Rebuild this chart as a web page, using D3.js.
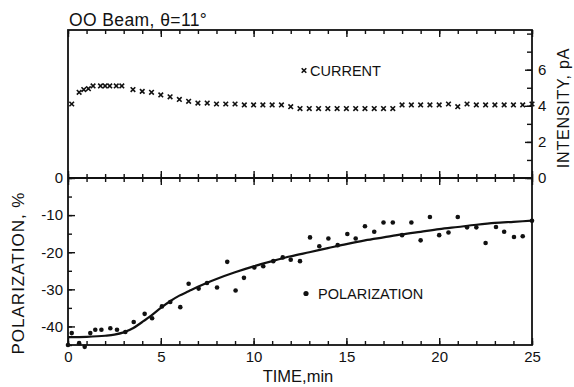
<!DOCTYPE html>
<html>
<head>
<meta charset="utf-8">
<script src="https://cdn.jsdelivr.net/npm/d3@7"></script>
<style>
  body { margin: 0; background: #fff; }
  svg text { font-family: "Liberation Sans", Arial, sans-serif; fill: #111; }
  .axis path.domain { display: none; }
  .axis line { stroke: #111; stroke-width: 1.4; }
</style>
</head>
<body>
<div id="chart"></div>
<script>
// beam current (top panel), pA
const currentTime = [0.2, 0.6, 0.85, 1.1, 1.35, 1.75, 2.0, 2.25, 2.6, 2.9,
  3.5, 4.0, 4.5, 5.0, 5.5, 6.0, 6.5, 7.0, 7.5, 8.0, 8.5, 9.0, 9.5, 10.0, 10.5,
  11.0, 11.5, 12.0, 12.5, 13.0, 13.5, 14.0, 14.5, 15.0, 15.5, 16.0, 16.5, 17.0,
  17.5, 18.0, 18.5, 19.0, 19.5, 20.0, 20.5, 21.0, 21.5, 22.0, 22.5, 23.0, 23.5,
  24.0, 24.5, 25.0];
const currentValue = [4.1, 4.75, 4.9, 4.95, 5.1, 5.1, 5.1, 5.1, 5.1, 5.1,
  4.9, 4.8, 4.75, 4.6, 4.5, 4.35, 4.25, 4.15, 4.15, 4.1, 4.1, 4.1, 4.05, 4.05, 4.05,
  4.05, 4.05, 3.95, 3.85, 3.85, 3.85, 3.85, 3.85, 3.85, 3.85, 3.85, 3.85, 3.85,
  3.85, 4.05, 4.05, 4.05, 4.05, 4.05, 4.1, 3.95, 4.1, 4.05, 4.05, 4.05, 4.05,
  4.05, 4.05, 4.1];

// polarization measurements (bottom panel), %
const polTime = [0, 0.2, 0.6, 0.9, 1.2, 1.47, 1.8, 2.28, 2.64, 3.09, 3.54, 4.13,
  4.53, 5.06, 5.51, 6.05, 6.5, 7.04, 7.49, 8.03, 8.58, 9.03, 9.48, 10.04, 10.52,
  11.06, 11.57, 12.0, 12.5, 13.04, 13.54, 14.03, 14.53, 15.05, 15.5, 16.0, 16.5,
  17.0, 17.5, 18.0, 18.5, 19.0, 19.5, 20.0, 20.5, 21.0, 21.5, 22.0, 22.5, 23.06,
  23.5, 24.03, 24.5, 25.0];
const polValue = [-45, -41.8, -44.5, -45.5, -41.8, -40.9, -40.9, -40.5, -40.9, -41.5,
  -38.8, -36.6, -37.8, -34.6, -33.4, -34.8, -28.5, -29.8, -28.3, -29.5, -22.6, -30.3,
  -26.9, -24.1, -23.8, -22.4, -21.4, -22.0, -22.4, -16.0, -18.4, -16.3, -18.1, -15.1,
  -16.3, -13.0, -14.5, -12.0, -12.0, -15.4, -12.0, -16.8, -10.5, -15.4, -14.7, -10.5,
  -13.3, -13.3, -17.5, -13.2, -14.5, -15.9, -15.7, -11.5];

// smooth fitted curve
const fitTime = [0, 1, 2, 2.5, 3, 3.5, 4, 4.5, 5, 5.5, 6, 6.5, 7, 7.5, 8, 9, 10,
  11, 12, 13, 14, 15, 16, 17, 18, 19, 20, 21, 22, 23, 24, 25];
const fitValue = [-42.9, -42.8, -42.5, -42.2, -41.6, -40.5, -38.8, -37.0, -35.0,
  -33.2, -31.7, -30.5, -29.3, -28.2, -27.2, -25.4, -23.8, -22.4, -21.1, -20.0,
  -18.9, -17.8, -16.8, -16.0, -15.2, -14.5, -13.8, -13.2, -12.6, -12.1, -11.8, -11.5];

const timeTicks = [0, 5, 10, 15, 20, 25];
const polTicks = [0, -10, -20, -30, -40];
const currentTicks = [0, 2, 4, 6];

const width = 574, height = 387;
const x = d3.scaleLinear().domain([0, 25]).range([68, 532]);
const yTop = d3.scaleLinear().domain([0, 8.2]).range([178, 30]);
const yBot = d3.scaleLinear().domain([-45, 0]).range([345, 178]);

const svg = d3.select("#chart").append("svg")
  .attr("width", width)
  .attr("height", height);

const minorTime = d3.range(0, 26, 1);

// top edge ticks (pointing down into top panel)
svg.append("g").attr("class", "axis").attr("transform", `translate(0,${yTop.range()[1]})`)
  .call(d3.axisBottom(x).tickValues(minorTime).tickSize(4).tickFormat(""));
svg.append("g").attr("class", "axis").attr("transform", `translate(0,${yTop.range()[1]})`)
  .call(d3.axisBottom(x).tickValues(timeTicks).tickSize(7).tickFormat(""));

// middle line ticks cross both ways
svg.append("g").attr("class", "axis").attr("transform", `translate(0,${yBot(0)})`)
  .call(d3.axisBottom(x).tickValues(minorTime).tickSize(4).tickFormat(""));
svg.append("g").attr("class", "axis").attr("transform", `translate(0,${yBot(0)})`)
  .call(d3.axisTop(x).tickValues(minorTime).tickSize(4).tickFormat(""));
svg.append("g").attr("class", "axis").attr("transform", `translate(0,${yBot(0)})`)
  .call(d3.axisBottom(x).tickValues(timeTicks).tickSize(7).tickFormat(""));
svg.append("g").attr("class", "axis").attr("transform", `translate(0,${yBot(0)})`)
  .call(d3.axisTop(x).tickValues(timeTicks).tickSize(7).tickFormat(""));

// bottom edge: ticks up, labels below
svg.append("g").attr("class", "axis").attr("transform", `translate(0,${yBot(-45)})`)
  .call(d3.axisBottom(x).tickValues(minorTime).tickSize(-4).tickFormat(""));
svg.append("g").attr("class", "axis bottom").attr("transform", `translate(0,${yBot(-45)})`)
  .call(d3.axisBottom(x).tickValues(timeTicks).tickSizeInner(-7).tickSizeOuter(0).tickPadding(6).tickFormat(d3.format("d")))
  .selectAll("text").style("font-size", "15px");

// left axis of polarization
svg.append("g").attr("class", "axis").attr("transform", `translate(${x(0)},0)`)
  .call(d3.axisLeft(yBot).tickValues(d3.range(-45, 1, 5)).tickSize(-4).tickFormat(""));
svg.append("g").attr("class", "axis").attr("transform", `translate(${x(0)},0)`)
  .call(d3.axisLeft(yBot).tickValues(polTicks).tickSizeInner(-7).tickSizeOuter(0).tickPadding(5)
    .tickFormat(d => d === 0 ? "0" : "-" + Math.abs(d)))
  .selectAll("text").style("font-size", "15px");

// right axis of current
svg.append("g").attr("class", "axis").attr("transform", `translate(${x(25)},0)`)
  .call(d3.axisRight(yTop).tickValues(d3.range(0, 9, 1)).tickSize(-5).tickFormat(""));
svg.append("g").attr("class", "axis").attr("transform", `translate(${x(25)},0)`)
  .call(d3.axisRight(yTop).tickValues(currentTicks).tickSizeInner(-7).tickSizeOuter(0).tickPadding(6).tickFormat(d3.format("d")))
  .selectAll("text").style("font-size", "15px");

// frames
svg.append("rect")
  .attr("x", x(0)).attr("y", yTop.range()[1])
  .attr("width", x(25) - x(0)).attr("height", yBot(-45) - yTop.range()[1])
  .attr("fill", "none").attr("stroke", "#111").attr("stroke-width", 1.8);
svg.append("line")
  .attr("x1", x(0)).attr("x2", x(25)).attr("y1", yBot(0)).attr("y2", yBot(0))
  .attr("stroke", "#111").attr("stroke-width", 1.8);

// current markers
const cross = (cx, cy, s) => `M${cx - s},${cy - s}L${cx + s},${cy + s}M${cx - s},${cy + s}L${cx + s},${cy - s}`;
svg.append("g").selectAll("path")
  .data(currentTime.map((t, i) => [t, currentValue[i]]))
  .join("path")
  .attr("d", d => cross(x(d[0]), yTop(d[1]), 2.3))
  .attr("stroke", "#111").attr("stroke-width", 1.6).attr("fill", "none");

// fit line
const line = d3.line().x(d => x(d[0])).y(d => yBot(d[1])).curve(d3.curveMonotoneX);
svg.append("path")
  .datum(fitTime.map((t, i) => [t, fitValue[i]]))
  .attr("d", line)
  .attr("fill", "none").attr("stroke", "#111").attr("stroke-width", 2.2);

// polarization dots
svg.append("g").selectAll("circle")
  .data(polTime.map((t, i) => [t, polValue[i]]))
  .join("circle")
  .attr("cx", d => x(d[0])).attr("cy", d => yBot(d[1]))
  .attr("r", 2.3).attr("fill", "#111");

// legends inside panels
svg.append("path").attr("d", cross(304, 70.5, 2.3)).attr("stroke", "#111").attr("stroke-width", 1.6);
svg.append("text").attr("x", 310).attr("y", 75.5).style("font-size", "14.5px").text("CURRENT");
svg.append("circle").attr("cx", 306).attr("cy", 293.5).attr("r", 2.6).attr("fill", "#111");
svg.append("text").attr("x", 318).attr("y", 298.5).style("font-size", "14.5px").text("POLARIZATION");

// titles and axis labels
svg.append("text").attr("x", 69).attr("y", 26).style("font-size", "17.5px").style("letter-spacing", "0.4px")
  .text("OO Beam, \u03b8=11\u00b0");
svg.append("text").attr("x", 298).attr("y", 382).attr("text-anchor", "middle")
  .style("font-size", "16.5px").text("TIME,min");
svg.append("text")
  .attr("transform", `translate(24,273) rotate(-90)`)
  .attr("text-anchor", "middle").style("font-size", "17px").style("letter-spacing", "1px")
  .text("POLARIZATION, %");
svg.append("text")
  .attr("transform", `translate(569,108) rotate(-90)`)
  .attr("text-anchor", "middle").style("font-size", "16px").style("letter-spacing", "0.8px")
  .text("INTENSITY, pA");
</script>
</body>
</html>
